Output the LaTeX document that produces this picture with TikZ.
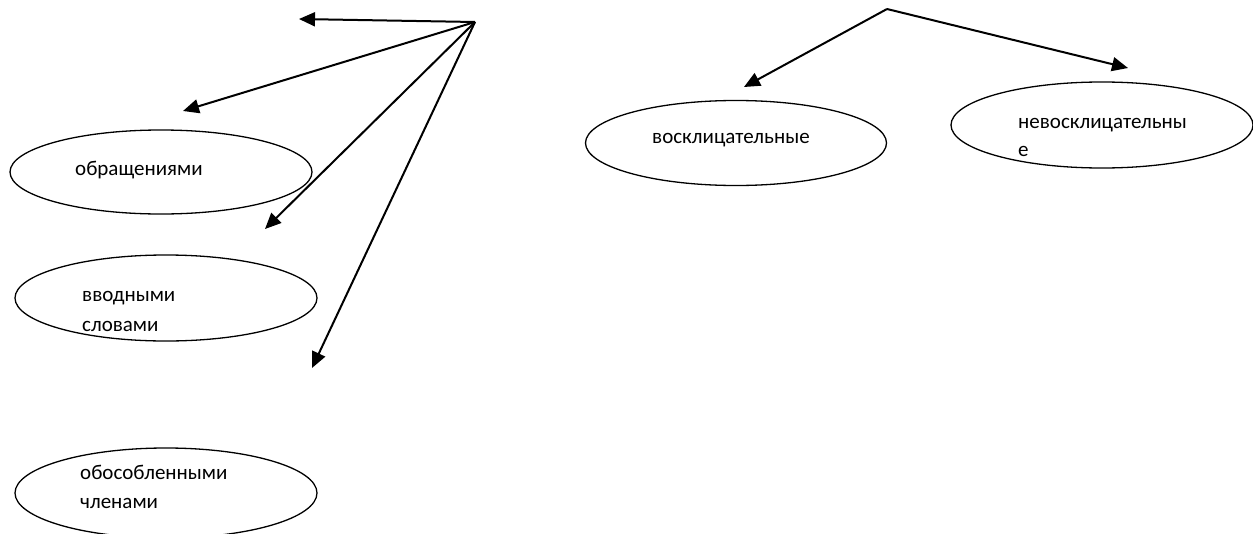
\documentclass[tikz,border=0pt]{standalone}
\usepackage{fontspec}
\setmainfont{Carlito}
\usetikzlibrary{shapes.geometric,arrows.meta}
\tikzset{
  oval/.style={draw=black, line width=1.3pt, ellipse, inner sep=0pt},
  lbl/.style={anchor=base west, inner sep=0pt, font=\fontsize{21}{25}\selectfont},
  arr/.style={line width=2pt, -{Triangle[length=16pt,width=14pt]}}
}
\begin{document}
\begin{tikzpicture}[x=1pt,y=-1pt]
\useasboundingbox (0,0) rectangle (1253,533);
\clip (0,0) rectangle (1253,533);
% ellipses
\node[oval, minimum width=302pt, minimum height=84pt] (e1) at (161,172) {};
\node[oval, minimum width=302pt, minimum height=86pt] (e2) at (166,298) {};
\node[oval, minimum width=302pt, minimum height=90pt] (e3) at (166,493) {};
\node[oval, minimum width=301pt, minimum height=85pt] (e4) at (736,143) {};
\node[oval, minimum width=302pt, minimum height=86pt] (e5) at (1102,125) {};
% texts
\node[lbl] (t1) at (75,175) {обращениями};
\node[lbl] (t2a) at (82,301) {вводными};
\node[lbl] (t2b) at (82,331) {словами};
\node[lbl] (t3a) at (80,479) {обособленными};
\node[lbl] (t3b) at (80,508) {членами};
\node[lbl] (t4) at (652,143) {восклицательные};
\node[lbl] (t5a) at (1018,128) {невосклицательны};
\node[lbl] (t5b) at (1018,156) {е};
% connector points
\coordinate (s1) at (475,22);
\coordinate (a1) at (299,19);
\coordinate (a2) at (183,111);
\coordinate (a3) at (265,229);
\coordinate (a4) at (312,368);
\coordinate (s2) at (887,9);
\coordinate (a5) at (744,87);
\coordinate (a6) at (1128,68);
% arrows
\draw[arr] (s1) -- (a1);
\draw[arr] (s1) -- (a2);
\draw[arr] (s1) -- (a3);
\draw[arr] (s1) -- (a4);
\draw[arr] (s2) -- (a5);
\draw[arr] (s2) -- (a6);
\end{tikzpicture}
\end{document}
